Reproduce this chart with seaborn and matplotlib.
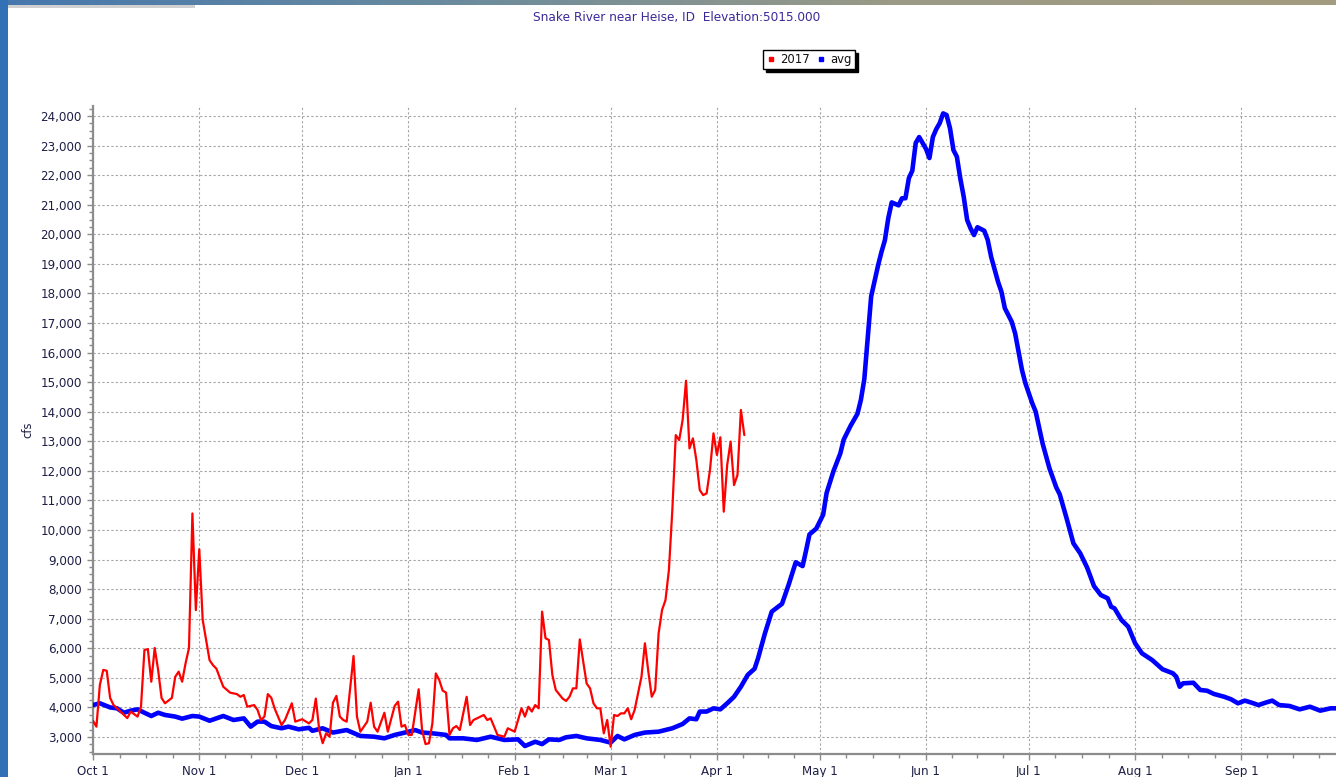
import numpy as np
import pandas as pd
import matplotlib
matplotlib.use("Agg")
import matplotlib.pyplot as plt
import seaborn as sns
from matplotlib.lines import Line2D
from matplotlib.patches import Rectangle
from matplotlib.ticker import FixedLocator, FuncFormatter, MultipleLocator
from matplotlib.colors import LinearSegmentedColormap
import matplotlib.dates as mdates

# ---------------- data ----------------
title = "Snake River near Heise, ID  Elevation:5015.000"
y_label = "cfs"
series_names = ["2017", "avg"]
water_year_start = "2016-10-01"
month_starts = ["2016-10-01", "2016-11-01", "2016-12-01", "2017-01-01", "2017-02-01",
                "2017-03-01", "2017-04-01", "2017-05-01", "2017-06-01", "2017-07-01",
                "2017-08-01", "2017-09-01", "2017-10-01"]
month_labels = ["Oct 1", "Nov 1", "Dec 1", "Jan 1", "Feb 1", "Mar 1",
                "Apr 1", "May 1", "Jun 1", "Jul 1", "Aug 1", "Sep 1"]

# 2017 observed flow (days since Oct 1, cfs)
obs_day = [0, 1, 2, 3, 4, 5, 6, 8, 10, 11, 13, 14, 15, 16, 17, 18, 19, 20, 21, 23,
           24, 25, 26, 27, 28, 29, 30, 31, 32, 34, 35, 36, 38, 40, 42, 43, 44, 45, 47, 48,
           49, 50, 51, 52, 53, 55, 56, 58, 59, 61, 63, 64, 65, 66, 67, 68, 69, 70, 71, 72,
           73, 74, 76, 77, 78, 80, 81, 82, 83, 85, 86, 88, 89, 90, 91, 92, 93, 95, 96, 97,
           98, 99, 100, 101, 102, 103, 104, 105, 106, 107, 109, 110, 111, 112, 114, 115, 116, 117, 118, 120,
           121, 123, 125, 126, 127, 128, 129, 130, 131, 132, 133, 134, 135, 137, 138, 139, 140, 141, 142, 144,
           145, 146, 147, 148, 149, 150, 151, 152, 153, 154, 155, 156, 157, 158, 160, 161, 162, 163, 164, 165,
           166, 167, 168, 169, 170, 171, 172, 173, 174, 175, 176, 177, 178, 179, 180, 181, 182, 183, 184, 185,
           186, 187, 188, 189, 190]
obs_cfs = [3550, 3350, 4760, 5270, 5240, 4320, 4080, 3860, 3640, 3860, 3690, 4025, 5940, 5975, 4870, 6010, 5265, 4320, 4140, 4320,
           5040, 5210, 4870, 5490, 6010, 10560, 7290, 9350, 6960, 5600, 5430, 5310, 4700, 4500, 4450, 4360, 4420, 4025, 4080, 3915,
           3575, 3690, 4450, 4330, 3960, 3405, 3575, 4140, 3520, 3600, 3460, 3575, 4300, 3235, 2790, 3125, 3010, 4160, 4390, 3690,
           3575, 3520, 5740, 3690, 3180, 3520, 4160, 3350, 3180, 3820, 3180, 4050, 4195, 3350, 3405, 3070, 3070, 4615, 3235, 2760,
           2790, 3460, 5150, 4930, 4570, 4500, 3070, 3295, 3370, 3235, 4360, 3405, 3575, 3630, 3745, 3575, 3630, 3350, 3070, 3010,
           3295, 3180, 3970, 3690, 4025, 3860, 4080, 3970, 7240, 6340, 6280, 5100, 4590, 4300, 4220, 4360, 4645, 4645, 6300, 4810,
           4645, 4140, 3970, 3970, 3125, 3575, 2670, 3745, 3710, 3800, 3800, 3970, 3600, 3915, 5040, 6170, 5210, 4360, 4590, 6505,
           7295, 7630, 8650, 10680, 13210, 13040, 13720, 15050, 12760, 13100, 12370, 11350, 11180, 11240, 12050, 13270, 12540, 13135, 10620, 12200,
           12990, 11520, 11860, 14060, 13210]

# long-term average flow (days since Oct 1, cfs)
avg_day = [0, 2, 5, 7, 9, 11, 13, 15, 17, 19, 21, 24, 26, 29, 31, 34, 36, 38, 41, 44,
           46, 48, 50, 52, 55, 57, 60, 63, 64, 67, 70, 74, 78, 82, 85, 88, 91, 94, 96, 99,
           103, 104, 108, 112, 116, 120, 124, 126, 129, 131, 133, 136, 138, 141, 144, 148, 151, 153, 155, 158,
           161, 165, 169, 172, 174, 176, 177, 179, 181, 183, 185, 187, 189, 191, 193, 194, 196, 198, 201, 203,
           205, 207, 208, 209, 211, 213, 214, 216, 218, 219, 221, 223, 224, 225, 226, 227, 229, 230, 231, 232,
           233, 235, 236, 237, 238, 239, 240, 241, 243, 244, 245, 246, 247, 248, 249, 250, 251, 252, 253, 254,
           255, 256, 257, 258, 260, 261, 262, 264, 265, 266, 268, 269, 271, 272, 274, 275, 277, 279, 281, 282,
           284, 286, 288, 290, 291, 292, 294, 296, 297, 298, 300, 302, 304, 306, 309, 312, 315, 316, 317, 318,
           321, 323, 325, 327, 330, 332, 334, 336, 338, 340, 342, 344, 346, 349, 352, 355, 358, 361, 363, 364]
avg_cfs = [4080, 4140, 4000, 3970, 3820, 3890, 3935, 3820, 3710, 3820, 3745, 3690, 3620, 3710, 3690, 3550, 3630, 3710, 3575, 3630,
           3350, 3520, 3520, 3370, 3295, 3350, 3260, 3310, 3210, 3295, 3150, 3235, 3035, 3010, 2955, 3070, 3150, 3235, 3150, 3125,
           3070, 2955, 2955, 2900, 3010, 2900, 2920, 2695, 2840, 2760, 2920, 2900, 2990, 3035, 2955, 2900, 2810, 3035, 2920, 3070,
           3150, 3180, 3295, 3440, 3630, 3600, 3860, 3860, 3970, 3935, 4140, 4360, 4700, 5100, 5310, 5660, 6500, 7240, 7505, 8175,
           8910, 8780, 9300, 9850, 10050, 10520, 11250, 11990, 12590, 13060, 13525, 13930, 14400, 15100, 16500, 17900, 18940, 19400, 19800, 20550,
           21080, 20980, 21220, 21220, 21900, 22150, 23090, 23290, 22890, 22580, 23290, 23560, 23760, 24090, 24035, 23585, 22850, 22625, 21890, 21270,
           20485, 20200, 19975, 20240, 20120, 19810, 19240, 18400, 18060, 17500, 17045, 16650, 15410, 14960, 14285, 14000, 12930, 12090, 11440, 11210,
           10400, 9550, 9210, 8730, 8420, 8105, 7800, 7690, 7405, 7350, 6960, 6730, 6170, 5830, 5600, 5290, 5155, 5040, 4700, 4815,
           4835, 4590, 4565, 4455, 4360, 4275, 4140, 4230, 4160, 4080, 4160, 4230, 4080, 4050, 3935, 4025, 3890, 3970, 3970, 3960]

y_ticks = list(range(3000, 24001, 1000))

# ---------------- figure ----------------
sns.set_style("white")
plt.rcParams["font.family"] = ["DejaVu Sans"]

t0 = pd.Timestamp(water_year_start)
obs_df = pd.DataFrame({"date": t0 + pd.to_timedelta(obs_day, unit="D"), "cfs": obs_cfs})
avg_df = pd.DataFrame({"date": t0 + pd.to_timedelta(avg_day, unit="D"), "cfs": avg_cfs})

fig = plt.figure(figsize=(13.36, 7.77), dpi=100)
fig.patch.set_facecolor("white")
ax = fig.add_axes([93 / 1336, 23 / 777, 1243 / 1336, 648 / 777])

sns.lineplot(data=avg_df, x="date", y="cfs", ax=ax, color="#0000ff", linewidth=3.3,
             estimator=None, sort=False, zorder=3)
sns.lineplot(data=obs_df, x="date", y="cfs", ax=ax, color="#ff0000", linewidth=1.6,
             estimator=None, sort=False, zorder=4)

ms = [pd.Timestamp(m) for m in month_starts]
ax.set_xlim(mdates.date2num(t0), mdates.date2num(t0) + 362.6)
ax.set_ylim(2425, 24340)

ax.set_xticks(mdates.date2num(ms[:-1]))
ax.set_xticklabels(month_labels)
minor = []
for a, b in zip(ms[:-1], ms[1:]):
    na, nb = mdates.date2num(a), mdates.date2num(b)
    minor += [na + k * (nb - na) / 4 for k in (1, 2, 3)]
ax.xaxis.set_minor_locator(FixedLocator(minor))

ax.set_yticks(y_ticks)
ax.yaxis.set_major_formatter(FuncFormatter(lambda v, p: f"{int(v):,}"))
ax.yaxis.set_minor_locator(MultipleLocator(250))

tick_color = "#1e1e46"
ax.tick_params(axis="both", which="major", length=4, width=1, color="#8c8c8c",
               labelsize=8.6, labelcolor=tick_color, direction="out")
ax.tick_params(axis="both", which="minor", length=3, width=1, color="#8c8c8c", direction="out")
ax.tick_params(axis="y", pad=4)
ax.tick_params(axis="x", pad=4)
ax.tick_params(left=True, bottom=True, which="both")

ax.grid(True, which="major", linestyle=(0, (2, 2)), color="#a4a4a4", linewidth=0.8, zorder=0)
for s in ["top", "right"]:
    ax.spines[s].set_visible(False)
for s in ["left", "bottom"]:
    ax.spines[s].set_color("#8c8c8c")
    ax.spines[s].set_linewidth(1.6)

ax.set_xlabel("")
ax.set_ylabel("")
fig.text(28 / 1336, 1 - 430 / 777, y_label, rotation=90, ha="center", va="center",
         fontsize=8.3, color=tick_color)

fig.text(677 / 1336, 1 - 17 / 777, title, ha="center", va="center",
         fontsize=8.7, color="#3a2a9a")

handles = [Line2D([], [], color="#ff0000", marker="s", linestyle="none", markersize=3.5),
           Line2D([], [], color="#0000ff", marker="s", linestyle="none", markersize=3.5)]
leg_kw = dict(loc="center", bbox_to_anchor=(809 / 1336, 1 - 59.5 / 777),
              bbox_transform=fig.transFigure, ncol=2, fontsize=8.4, frameon=True,
              fancybox=False, edgecolor="black", handlelength=0.8, handletextpad=0.4,
              columnspacing=0.6, borderpad=0.25, borderaxespad=0)
try:
    leg = ax.legend(handles, series_names, shadow={"facecolor": "black", "edgecolor": "black",
                                                   "alpha": 1, "ox": 2, "oy": -2}, **leg_kw)
except Exception:
    leg = ax.legend(handles, series_names, shadow=True, **leg_kw)
leg.get_frame().set_linewidth(1.0)
for t in leg.get_texts():
    t.set_color("#111111")

# window frame decoration of the screenshot
fig.patches.append(Rectangle((0, 0), 8 / 1336, 1, transform=fig.transFigure,
                             facecolor="#3271b6", edgecolor="none", zorder=10))
fig.patches.append(Rectangle((8 / 1336, 1 - 8 / 777), 187 / 1336, 3 / 777, transform=fig.transFigure,
                             facecolor="#d0d0d0", edgecolor="none", zorder=10))
bar = fig.add_axes([0, 1 - 5 / 777, 1, 5 / 777])
grad = np.linspace(0, 1, 256)
cmap = LinearSegmentedColormap.from_list("frame", ["#4677ad", "#6a8b9e", "#9a9a86", "#a49c80"])
bar.imshow(grad[None, :], aspect="auto", cmap=cmap, extent=[0, 1, 0, 1])
bar.set_axis_off()

fig.savefig("out.png", dpi=100)
